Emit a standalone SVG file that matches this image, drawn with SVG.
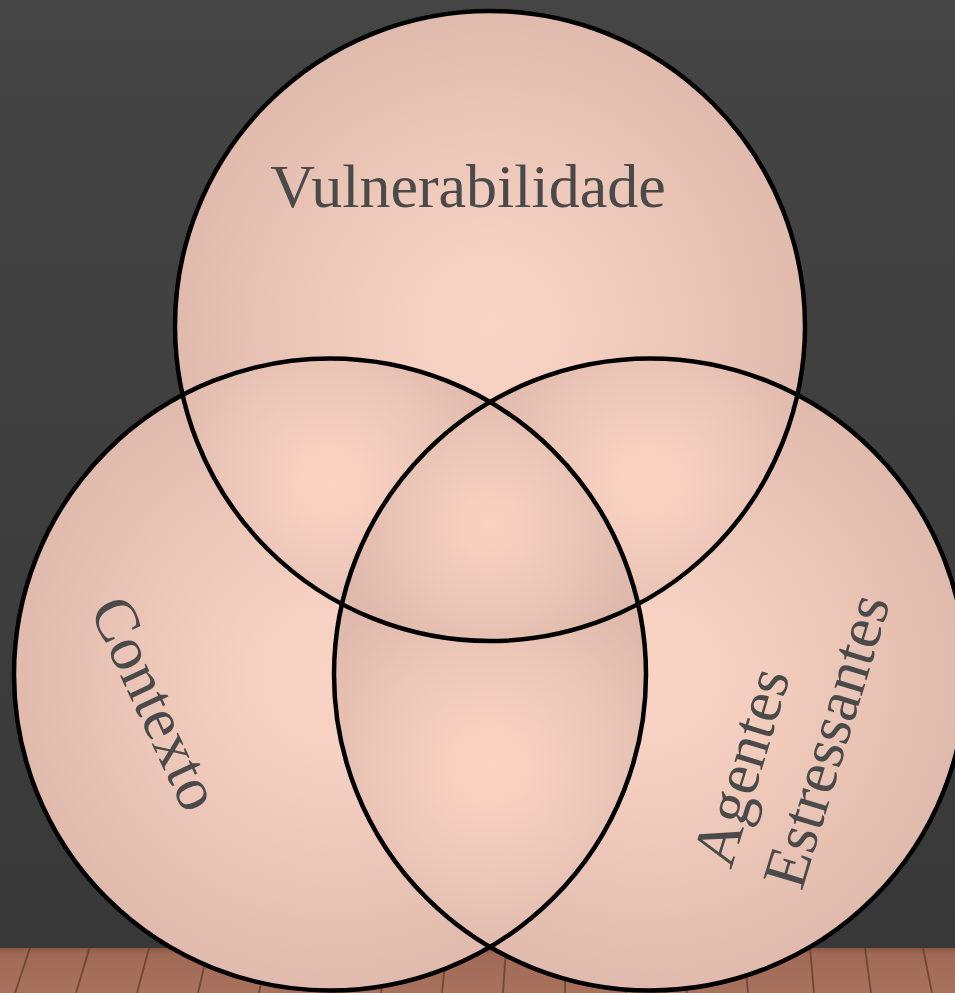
<svg xmlns="http://www.w3.org/2000/svg" width="955" height="993" viewBox="0 0 955 993">
<style>
.lbl{font-family:"Liberation Serif","Times New Roman",serif;font-size:62px;fill:#4a4a4a}
.ring{fill:none;stroke:#000;stroke-width:4.5}
.seam{stroke:#6a4032;stroke-width:1.8;opacity:0.85}
</style>
<defs>
<linearGradient id="wall" x1="0" y1="0" x2="0" y2="1"><stop offset="0" stop-color="#454545"/><stop offset="1" stop-color="#383838"/></linearGradient>
<linearGradient id="floor" x1="0" y1="0" x2="0" y2="1"><stop offset="0" stop-color="#8d5a48"/><stop offset="0.15" stop-color="#a06a56"/><stop offset="1" stop-color="#a8725d"/></linearGradient>
<radialGradient id="gTop" gradientUnits="userSpaceOnUse" cx="490" cy="326" r="315"><stop offset="0" stop-color="#f9d3c3"/><stop offset="0.25" stop-color="#f6d0c0"/><stop offset="1" stop-color="#e0bbad"/></radialGradient>
<radialGradient id="gLeft" gradientUnits="userSpaceOnUse" cx="330" cy="674.5" r="316"><stop offset="0" stop-color="#f9d3c3"/><stop offset="0.25" stop-color="#f6d0c0"/><stop offset="1" stop-color="#e0bbad"/></radialGradient>
<radialGradient id="gRight" gradientUnits="userSpaceOnUse" cx="650" cy="674.5" r="316"><stop offset="0" stop-color="#f9d3c3"/><stop offset="0.25" stop-color="#f6d0c0"/><stop offset="1" stop-color="#e0bbad"/></radialGradient>
<radialGradient id="gTL" gradientUnits="userSpaceOnUse" cx="330" cy="482" r="180"><stop offset="0" stop-color="#fad3c3"/><stop offset="0.2" stop-color="#f7d0c0"/><stop offset="1" stop-color="#dfbaac"/></radialGradient>
<radialGradient id="gTR" gradientUnits="userSpaceOnUse" cx="648" cy="482" r="180"><stop offset="0" stop-color="#fad3c3"/><stop offset="0.2" stop-color="#f7d0c0"/><stop offset="1" stop-color="#dfbaac"/></radialGradient>
<radialGradient id="gLR" gradientUnits="userSpaceOnUse" cx="490" cy="765" r="200"><stop offset="0" stop-color="#fad3c3"/><stop offset="0.2" stop-color="#f7d0c0"/><stop offset="1" stop-color="#dfbaac"/></radialGradient>
<radialGradient id="gC" gradientUnits="userSpaceOnUse" cx="490" cy="525" r="150"><stop offset="0" stop-color="#f8d1c1"/><stop offset="0.2" stop-color="#f5cebe"/><stop offset="1" stop-color="#dfbaac"/></radialGradient>
<clipPath id="cTop"><circle cx="490" cy="326" r="315"/></clipPath>
<clipPath id="cLeft"><circle cx="330" cy="674.5" r="316"/></clipPath>
<clipPath id="cRight"><circle cx="650" cy="674.5" r="316"/></clipPath>
</defs>

<g id="background">
<rect x="0" y="0" width="955" height="948" fill="url(#wall)"/>
<rect x="0" y="948" width="955" height="45" fill="url(#floor)"/>
<g class="seam">
<line x1="30" y1="948" x2="15" y2="993"/>
<line x1="89.5" y1="948" x2="76" y2="993"/>
<line x1="149" y1="948" x2="137" y2="993"/>
<line x1="208.5" y1="948" x2="198" y2="993"/>
<line x1="268" y1="948" x2="259" y2="993"/>
<line x1="327.5" y1="948" x2="320" y2="993"/>
<line x1="387" y1="948" x2="381" y2="993"/>
<line x1="446.5" y1="948" x2="442" y2="993"/>
<line x1="506" y1="948" x2="503" y2="993"/>
<line x1="565.5" y1="948" x2="565" y2="993"/>
<line x1="625" y1="948" x2="626" y2="993"/>
<line x1="684.5" y1="948" x2="687" y2="993"/>
<line x1="744" y1="948" x2="748" y2="993"/>
<line x1="810" y1="948" x2="814" y2="993"/>
<line x1="865" y1="948" x2="871" y2="993"/>
<line x1="923" y1="948" x2="932" y2="993"/>
</g>
</g>

<g id="fills">
<circle cx="490" cy="326" r="315" fill="url(#gTop)"/>
<circle cx="330" cy="674.5" r="316" fill="url(#gLeft)"/>
<circle cx="650" cy="674.5" r="316" fill="url(#gRight)"/>
<g clip-path="url(#cTop)"><circle cx="330" cy="674.5" r="316" fill="url(#gTL)"/></g>
<g clip-path="url(#cTop)"><circle cx="650" cy="674.5" r="316" fill="url(#gTR)"/></g>
<g clip-path="url(#cLeft)"><circle cx="650" cy="674.5" r="316" fill="url(#gLR)"/></g>
<g clip-path="url(#cTop)"><g clip-path="url(#cLeft)"><circle cx="650" cy="674.5" r="316" fill="url(#gC)"/></g></g>
</g>

<g id="node-vulnerabilidade">
<circle class="ring" cx="490" cy="326" r="315"/>
<text class="lbl" x="468" y="207" text-anchor="middle">Vulnerabilidade</text>
</g>
<g id="node-contexto">
<circle class="ring" cx="330" cy="674.5" r="316"/>
<text class="lbl" transform="translate(89,609) rotate(65)">Contexto</text>
</g>
<g id="node-agentes-estressantes">
<circle class="ring" cx="650" cy="674.5" r="316"/>
<g transform="translate(731,870) rotate(-73)">
<text class="lbl" x="0" y="0">Agentes</text>
<text class="lbl" x="0" y="74">Estressantes</text>
</g>
</g>
<g id="connectors"/>
</svg>
